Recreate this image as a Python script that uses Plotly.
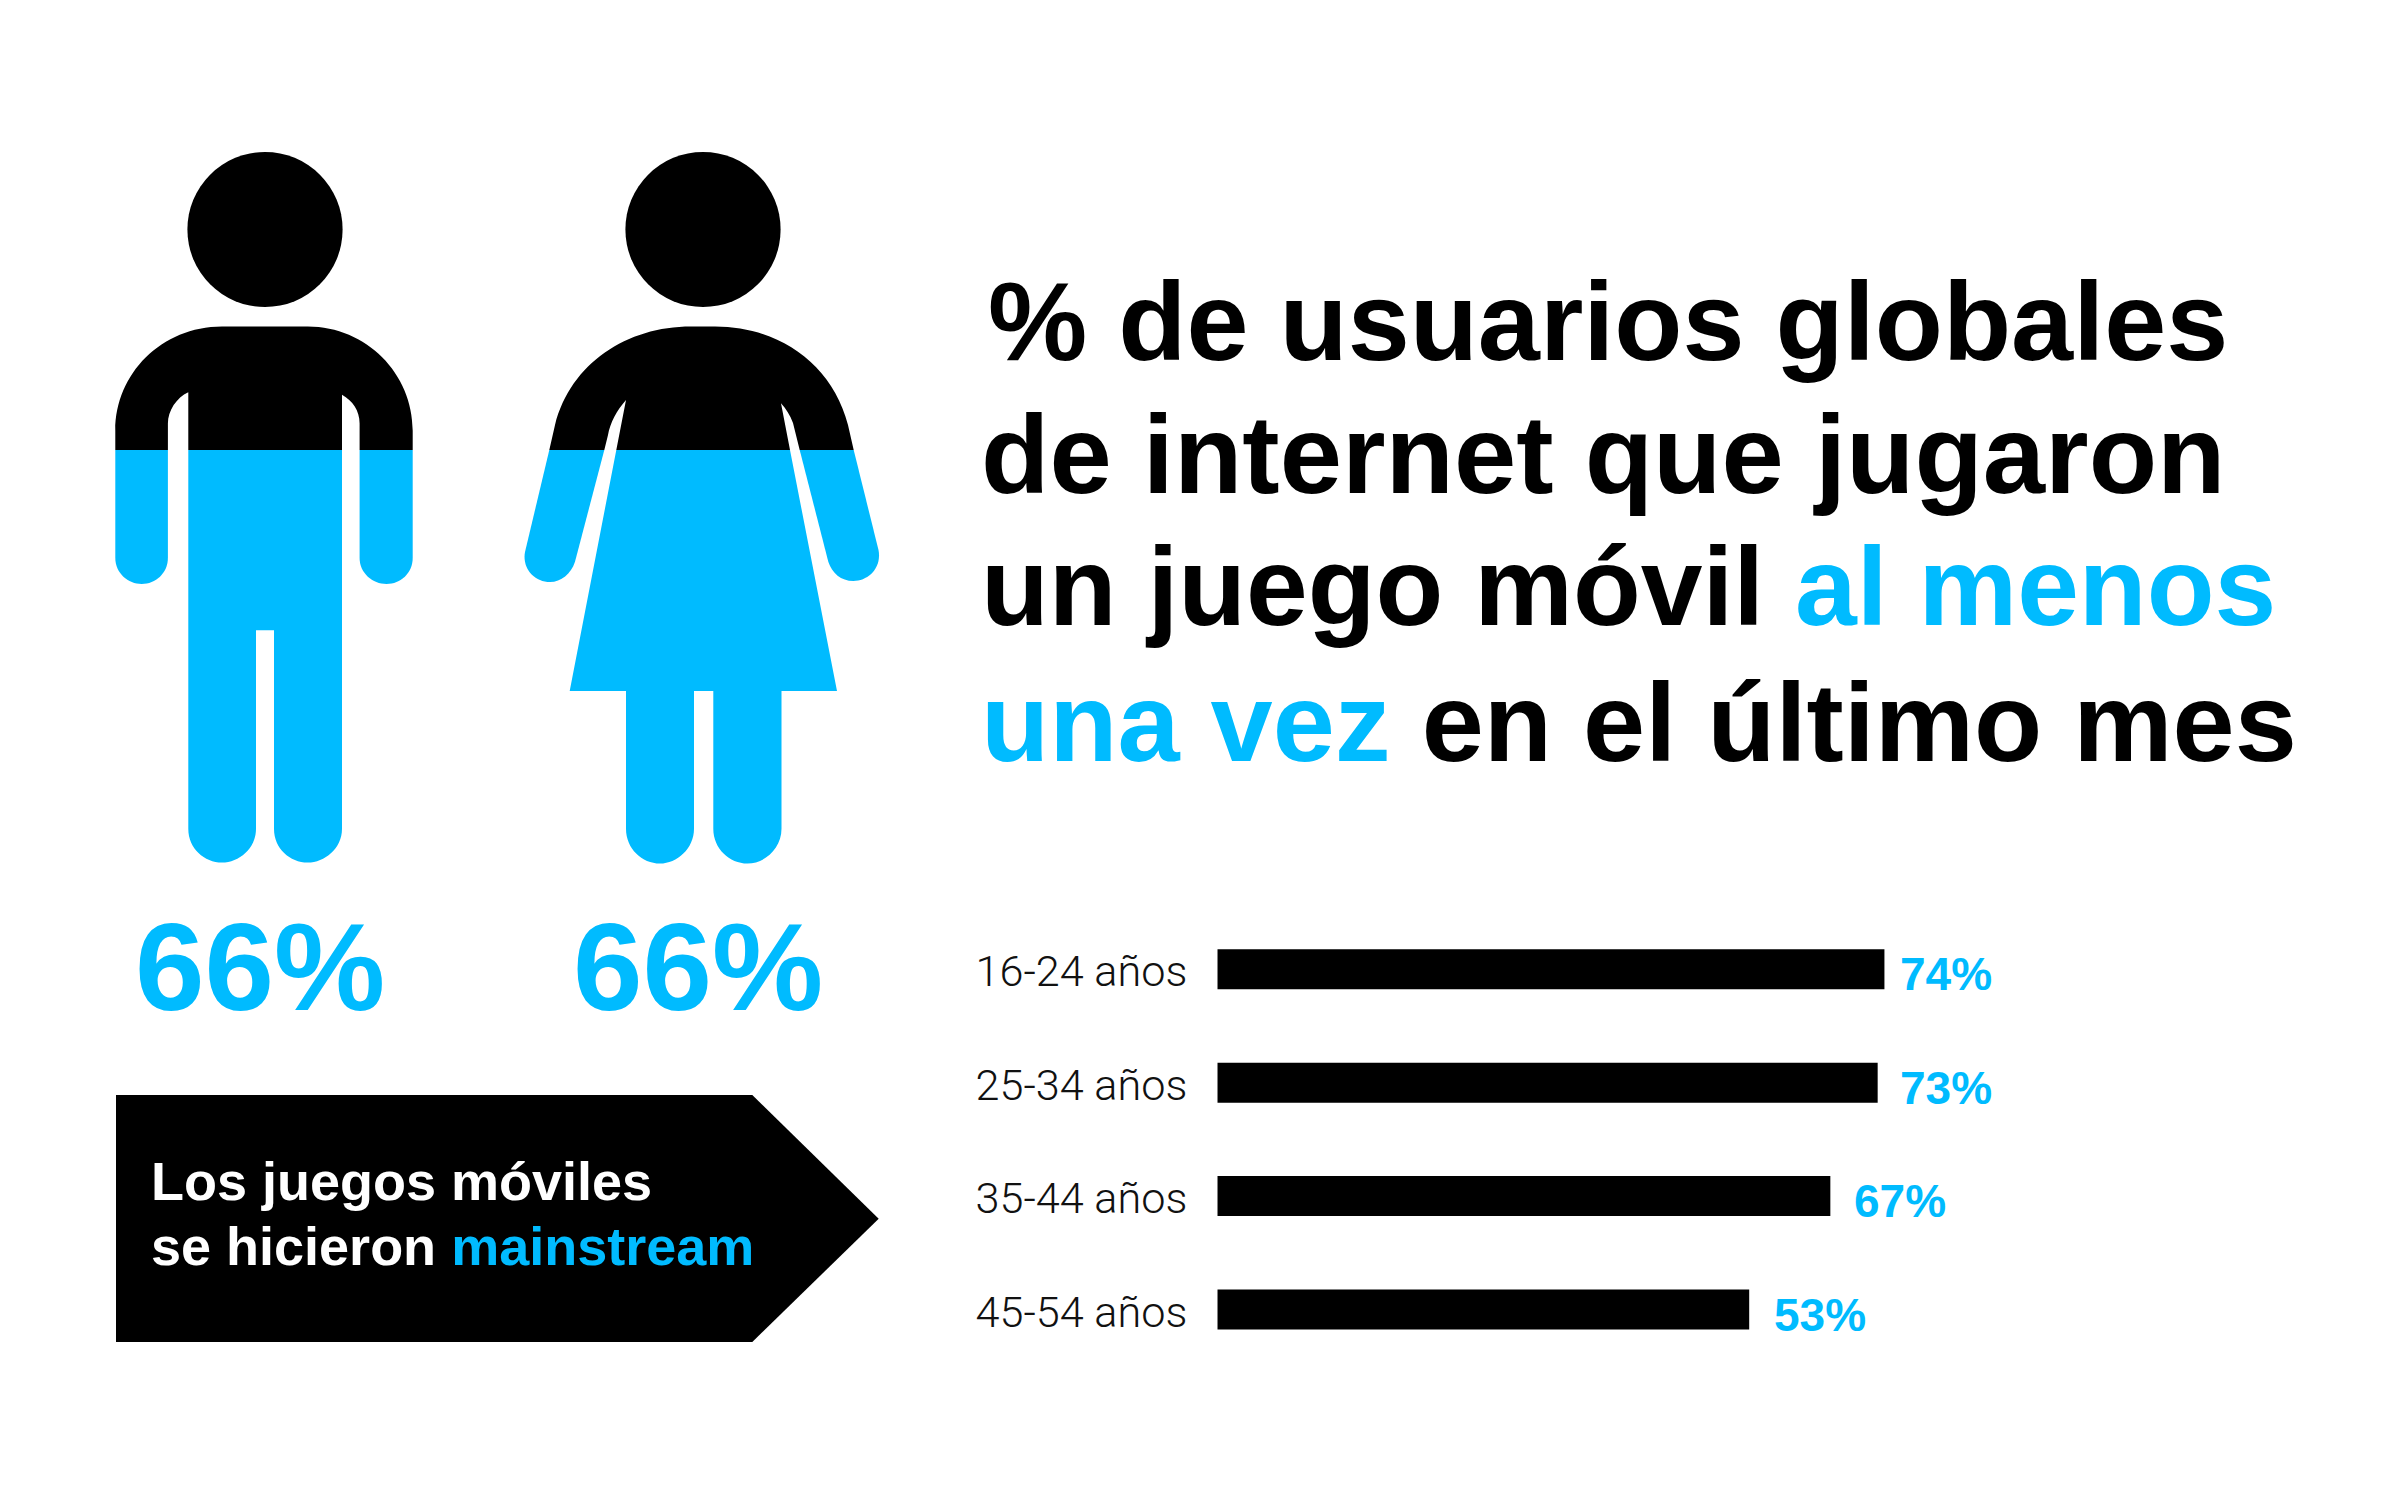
"""Global mobile gaming infographic: pictograms, headline and age bars."""
import plotly.graph_objects as go

W, H = 2401, 1486
BLUE = "#00BBFF"
FONT = "Liberation Sans"

age_groups = ["16-24 años", "25-34 años", "35-44 años", "45-54 años"]
age_labels = ["74%", "73%", "67%", "53%"]
# bars are not quite proportional to their labels in the source, these are the drawn lengths
age_bar_lengths = [74.0, 73.25, 68.0, 59.0]

gender_labels = ["66%", "66%"]

title_lines = [
    "% de usuarios globales",
    "de internet que jugaron",
    f'un juego móvil <span style="color:{BLUE}">al menos</span>',
    f'<span style="color:{BLUE}">una vez</span> en el último mes',
]
callout_lines = [
    "Los juegos móviles",
    f'se hicieron <span style="color:{BLUE}">mainstream</span>',
]

# icon outlines, in page pixels
MAN_TOP = ("M115.3,450 L115.3,430.6 C115.3,373.9 161.5,326.6 222,326.6 L307.8,326.6 "
           "C366.5,326.6 412.7,373.9 412.7,430.6 L412.7,450 L359.6,450 L359.6,423.6 "
           "C359.6,410.7 352.6,400.7 342,394.8 L342,450 L188.3,450 L188.3,392.3 "
           "C176.5,397.7 167.9,410.7 167.9,423.6 L167.9,450 Z")
MAN_BOTTOM = [
    "M115.3,450 L167.9,450 L167.9,558 C167.9,573 155.5,584 141.7,584 C128,584 115.3,573 115.3,558 Z",
    "M359.6,450 L412.7,450 L412.7,558 C412.7,573 400.5,584 386.5,584 C372.5,584 359.6,573 359.6,558 Z",
    "M188.3,450 L342,450 L342,828.8 C342,848.7 324.5,862.6 307.8,862.6 C290,862.6 274,848.7 274,828.8 "
    "L274,630.2 L256,630.2 L256,828.8 C256,848.7 239,862.6 222,862.6 C204.5,862.6 188.3,848.7 188.3,828.8 Z",
]
WOMAN_TOP = ("M549.3,450 L555,425 C571,363 627,326.6 691,326.6 L715,326.6 "
             "C778,326.6 832,363 848,425 L853.7,450 L799.7,450 L793,423 "
             "C790,415 786,409 781,403.3 L790,450 L616.3,450 L626,400 "
             "C617,410 610,423 608,435 L604.3,450 Z")
WOMAN_BOTTOM = [
    "M549.3,450 L604.3,450 L575,561.7 C571,574 561,582 550,582 C534,582 522,568 525,552 Z",
    "M799.7,450 L853.7,450 L878.5,550 C882,568 868,581 853.3,581 C841,581 832,573 828.3,561.7 Z",
    "M616.3,450 L790,450 L837,691 L781.5,691 L781.5,828.8 C781.5,848.7 764.5,863.6 747.5,863.6 "
    "C729.5,863.6 713.3,848.7 713.3,828.8 L713.3,691 L694,691 L694,828.8 C694,848.7 677,863.6 660,863.6 "
    "C642,863.6 626,848.7 626,828.8 L626,691 L569.7,691 Z",
]
ARROW = "M116,1095 L752.3,1095 L878.7,1218.7 L752.3,1342 L116,1342 Z"


def icon_shape(path, color):
    return dict(type="path", path=path, xref="x", yref="y",
                fillcolor=color, line=dict(width=0), layer="below")


def head_shape(cx):
    return dict(type="circle", xref="x", yref="y", x0=cx - 77.6, x1=cx + 77.6, y0=151.9, y1=307.1,
                fillcolor="black", line=dict(width=0), layer="below")


def page_text(x, y, text, size, color="black", xanchor="left"):
    return dict(x=x, y=y, xref="x", yref="y", text=f"<b>{text}</b>",
                showarrow=False, xanchor=xanchor, yanchor="middle", align="left",
                font=dict(family=FONT, size=size, color=color))


fig = go.Figure()

# invisible trace so the page-pixel axes exist
fig.add_trace(go.Scatter(x=[0, W], y=[0, H], mode="markers", marker=dict(opacity=0),
                         hoverinfo="skip", showlegend=False, xaxis="x", yaxis="y"))

fig.add_trace(go.Bar(
    x=age_bar_lengths, y=age_groups, orientation="h",
    marker=dict(color="black", line=dict(width=0)),
    showlegend=False, xaxis="x2", yaxis="y2",
))

shapes = [head_shape(265), head_shape(703), icon_shape(ARROW, "black"),
          icon_shape(MAN_TOP, "black"), icon_shape(WOMAN_TOP, "black")]
shapes += [icon_shape(p, BLUE) for p in MAN_BOTTOM + WOMAN_BOTTOM]

annotations = []
for line, x, y, size in zip(title_lines, [985.5, 979, 979, 979], [321, 454.5, 587, 722],
                            [111.6, 112, 111, 111.7]):
    annotations.append(page_text(x, y, line, size))
for label, x in zip(gender_labels, [259.5, 698]):
    annotations.append(page_text(x, 966, label, 125, color=BLUE, xanchor="center"))
for line, y in zip(callout_lines, [1181, 1245.5]):
    annotations.append(page_text(149, y, line, 54, color="white"))

for group, length, label, gap in zip(age_groups, age_bar_lengths, age_labels, [14, 20, 21.5, 22.5]):
    annotations.append(dict(
        x=length, y=group, xref="x2", yref="y2", text=f"<b>{label}</b>", showarrow=False,
        xanchor="left", yanchor="middle", xshift=gap, yshift=-5,
        font=dict(family=FONT, size=46, color=BLUE),
    ))

fig.update_layout(
    width=W, height=H, autosize=False,
    margin=dict(l=0, r=0, t=0, b=0, pad=0),
    paper_bgcolor="white", plot_bgcolor="rgba(0,0,0,0)",
    bargap=0.647,
    shapes=shapes, annotations=annotations,
    xaxis=dict(range=[0, W], domain=[0, 1], visible=False),
    yaxis=dict(range=[H, 0], domain=[0, 1], visible=False),
    xaxis2=dict(domain=[1217.3 / W, 1], range=[0, 131.3], visible=False, anchor="y2"),
    yaxis2=dict(
        domain=[1 - 1366.2 / H, 1 - 912.6 / H], autorange="reversed", anchor="x2",
        showgrid=False, showline=False, zeroline=False, ticks="", ticklabelstandoff=29,
        ticklabelshift=-2,
        tickfont=dict(family="Roboto", size=43.2, color="#111111", weight=300),
    ),
)

fig.write_html("out.html", config={"displayModeBar": False},
               post_script="document.body.style.margin='0';")
